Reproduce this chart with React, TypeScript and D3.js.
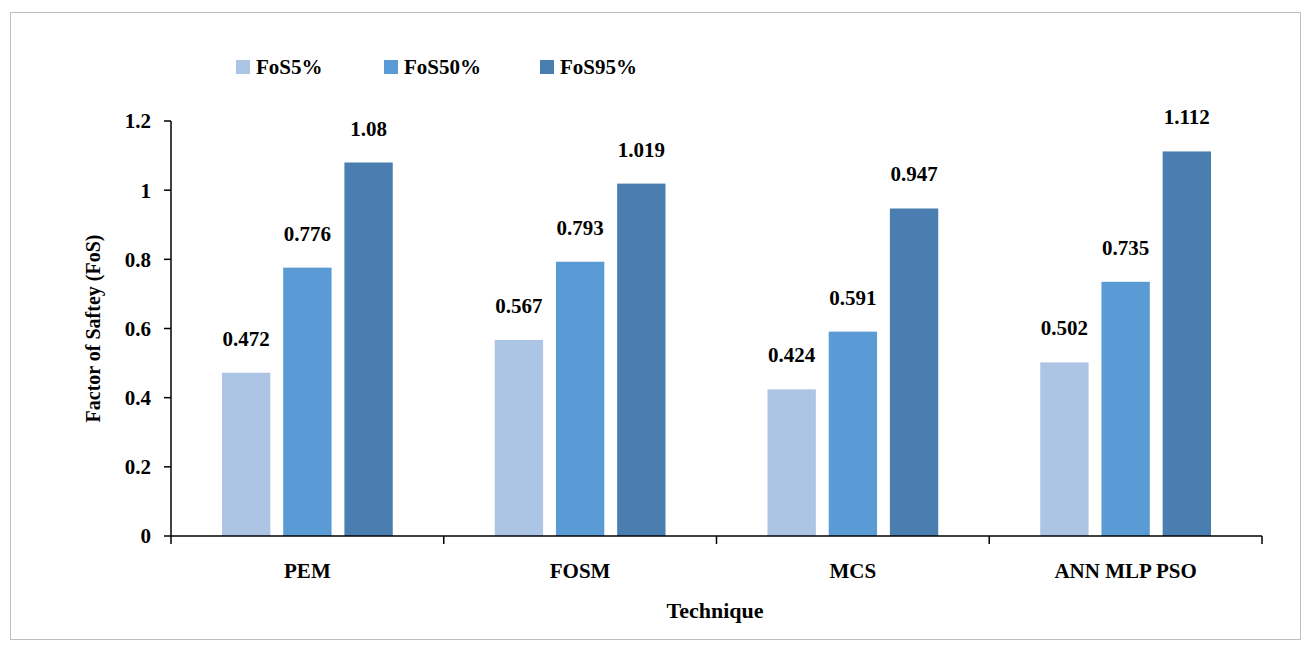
import React, { useRef, useEffect } from 'react'
import * as d3 from 'd3'

const categories = ['PEM', 'FOSM', 'MCS', 'ANN MLP PSO']
const seriesNames = ['FoS5%', 'FoS50%', 'FoS95%']
const fos5 = [0.472, 0.567, 0.424, 0.502]
const fos50 = [0.776, 0.793, 0.591, 0.735]
const fos95 = [1.08, 1.019, 0.947, 1.112]
const yTicks = [0, 0.2, 0.4, 0.6, 0.8, 1, 1.2]
const colors = ['#adc5e5', '#5b9bd5', '#4a7eb0']

const App: React.FC = () => {
  const svgRef = useRef<SVGSVGElement | null>(null)

  useEffect(() => {
    const svg = d3.select(svgRef.current)
    svg.selectAll('*').remove()
    const width = 1310
    const height = 651
    const margin = { top: 121, right: 48, bottom: 115, left: 171 }
    const font = 'Palatino Linotype, Book Antiqua, Liberation Serif, serif'
    const series = [fos5, fos50, fos95]

    // outer frame
    svg.append('rect').attr('x', 10.5).attr('y', 12.5).attr('width', 1290).attr('height', 627)
      .attr('fill', 'white').attr('stroke', '#bfbfbf')

    const x = d3.scaleBand().domain(categories)
      .range([margin.left, width - margin.right])
    const inner = d3.scaleBand().domain(seriesNames.map((_, i) => String(i)))
      .range([51, x.bandwidth() - 51]).paddingInner(0.21)
    const y = d3.scaleLinear().domain([0, 1.2]).range([height - margin.bottom, margin.top])

    const groups = svg.append('g').selectAll('g').data(categories).enter().append('g')
      .attr('transform', (c) => `translate(${x(c)},0)`)

    series.forEach((vals, si) => {
      groups.append('rect')
        .attr('x', inner(String(si))!)
        .attr('width', inner.bandwidth())
        .attr('y', (_, i) => y(vals[i]))
        .attr('height', (_, i) => y(0) - y(vals[i]))
        .attr('fill', colors[si])
      groups.append('text')
        .attr('x', inner(String(si))! + inner.bandwidth() / 2)
        .attr('y', (_, i) => y(vals[i]) - 27)
        .attr('text-anchor', 'middle')
        .attr('font-family', font).attr('font-weight', 'bold').attr('font-size', 21)
        .text((_, i) => String(vals[i]))
    })

    // x axis
    const xAxis = svg.append('g').attr('transform', `translate(0,${y(0)})`)
    xAxis.append('line').attr('x1', margin.left).attr('x2', width - margin.right)
      .attr('stroke', 'black').attr('stroke-width', 1.5)
    const bounds = categories.map((c) => x(c)!).concat([width - margin.right])
    bounds.forEach((b) => {
      xAxis.append('line').attr('x1', b).attr('x2', b).attr('y1', 0).attr('y2', 8)
        .attr('stroke', 'black').attr('stroke-width', 1.5)
    })
    categories.forEach((c) => {
      xAxis.append('text').attr('x', x(c)! + x.bandwidth() / 2).attr('y', 42)
        .attr('text-anchor', 'middle').attr('font-family', font)
        .attr('font-weight', 'bold').attr('font-size', 21).text(c)
    })

    // y axis
    const yAxis = svg.append('g').attr('transform', `translate(${margin.left},0)`)
    yAxis.append('line').attr('y1', y(0)).attr('y2', y(1.2))
      .attr('stroke', 'black').attr('stroke-width', 1.5)
    yTicks.forEach((t) => {
      yAxis.append('line').attr('x1', -7).attr('x2', 0).attr('y1', y(t)).attr('y2', y(t))
        .attr('stroke', 'black').attr('stroke-width', 1.5)
      yAxis.append('text').attr('x', -20).attr('y', y(t)).attr('dy', '0.35em')
        .attr('text-anchor', 'end').attr('font-family', font)
        .attr('font-weight', 'bold').attr('font-size', 21).text(String(t))
    })

    svg.append('text').attr('x', 715).attr('y', 618).attr('text-anchor', 'middle')
      .attr('font-family', font).attr('font-weight', 'bold').attr('font-size', 22).text('Technique')
    svg.append('text').attr('transform', `translate(100,${(y(0) + y(1.2)) / 2}) rotate(-90)`)
      .attr('text-anchor', 'middle')
      .attr('font-family', font).attr('font-weight', 'bold').attr('font-size', 20).text('Factor of Saftey (FoS)')

    // legend
    const legendX = [236, 384, 540]
    seriesNames.forEach((n, i) => {
      svg.append('rect').attr('x', legendX[i]).attr('y', 60).attr('width', 14).attr('height', 14)
        .attr('fill', colors[i])
      svg.append('text').attr('x', legendX[i] + 20).attr('y', 74)
        .attr('font-family', font).attr('font-weight', 'bold').attr('font-size', 21).text(n)
    })
  }, [])

  return <svg ref={svgRef} width={1310} height={651}
    style={{ position: 'absolute', left: 0, top: 0 }}></svg>
}

export default App
